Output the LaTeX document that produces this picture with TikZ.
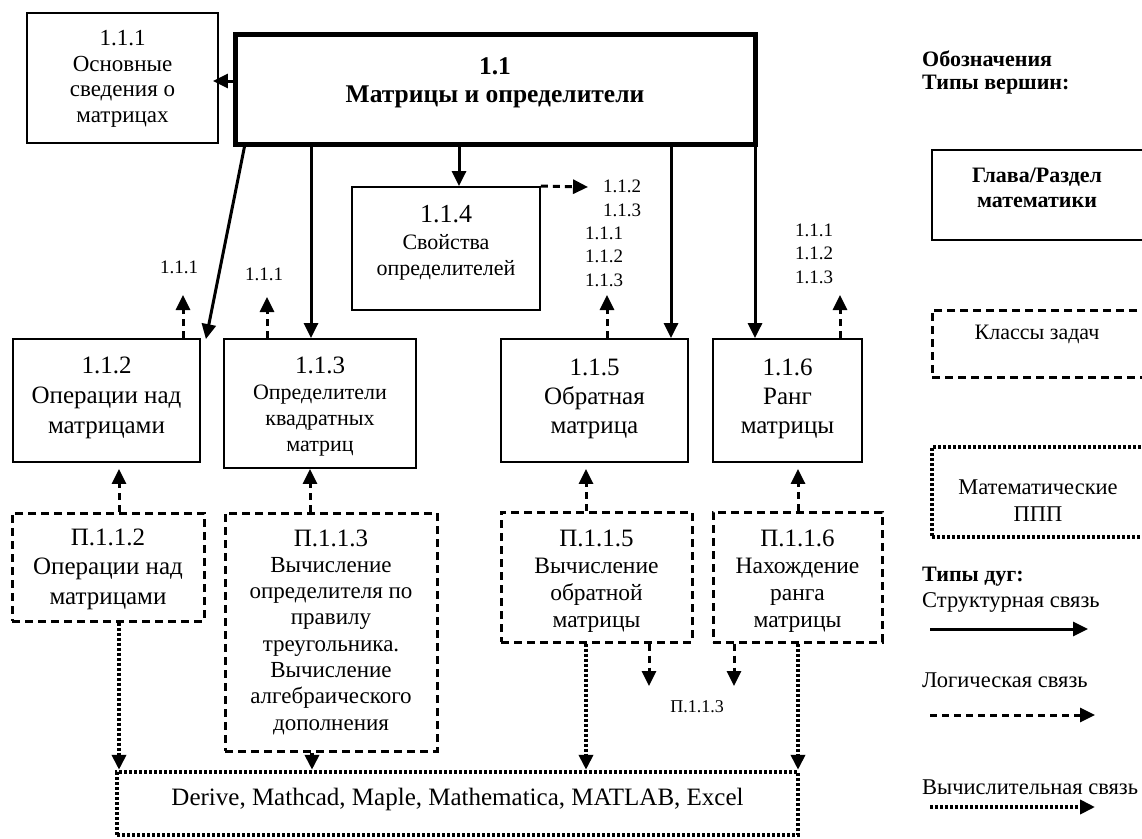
\documentclass[tikz,border=0pt]{standalone}
\usepackage{fontspec}
\setmainfont{Liberation Serif}
\usetikzlibrary{arrows.meta}
\newcommand{\myfs}[2]{\fontsize{#1}{#2}\selectfont}
\begin{document}
\begin{tikzpicture}[x=1pt,y=-1pt,
  box/.style={draw, line width=1.8pt, inner sep=0pt, align=center},
  mainbox/.style={draw, line width=5pt, inner sep=0pt, align=center},
  taskbox/.style={draw, line width=3pt, dash pattern=on 8pt off 5pt, inner sep=0pt, align=center},
  softbox/.style={draw, line width=4.5pt, dash pattern=on 3.3pt off 1.7pt, inner sep=0pt, align=center},
  txt/.style={inner sep=0pt, align=center},
  myhead/.style={-{Triangle[length=15pt,width=14pt]}},
  struct/.style={line width=3pt, myhead},
  logic/.style={line width=3pt, dash pattern=on 7pt off 5pt, myhead},
  calc/.style={line width=4.5pt, dash pattern=on 3.3pt off 1.7pt, myhead},
  lbl/.style={inner sep=0pt, align=center, font=\myfs{19}{23.5}},
]
\useasboundingbox (0,0) rectangle (1142,838);
\clip (0,0) rectangle (1142,838);

% ---- chapter boxes ----
\node[box, minimum width=191pt, minimum height=130pt] (a111) at (122.5,78) {};
\node[txt, font=\myfs{23}{25.7}] (a111t) at (122.5,79) {1.1.1\\Основные\\сведения о\\матрицах};
\node[mainbox, minimum width=520pt, minimum height=110pt] (m11) at (495,89) {};
\node[txt, font=\bfseries\myfs{25.5}{27.5}] (m11t) at (495,83) {1.1\\Матрицы и определители};
\node[box, minimum width=188pt, minimum height=123pt] (a114) at (446,248.5) {};
\node[txt, font=\myfs{22}{26.5}] (a114t) at (446,243) {{\myfs{26}{26.5}1.1.4}\\Свойства\\определителей};
\node[box, minimum width=187pt, minimum height=123pt] (a112) at (106.5,400.5) {};
\node[txt, font=\myfs{25}{30}] (a112t) at (106.5,398) {1.1.2\\Операции над\\матрицами};
\node[box, minimum width=192pt, minimum height=129pt] (a113) at (320,403.5) {};
\node[txt, font=\myfs{22}{26}] (a113t) at (320,406.5) {{\myfs{25}{26}1.1.3}\\Определители\\квадратных\\матриц};
\node[box, minimum width=187pt, minimum height=123pt] (a115) at (594.5,400.5) {};
\node[txt, font=\myfs{25}{29}] (a115t) at (594.5,398.5) {1.1.5\\Обратная\\матрица};
\node[box, minimum width=149pt, minimum height=123pt] (a116) at (787.5,400.5) {};
\node[txt, font=\myfs{25}{29}] (a116t) at (787.5,398.5) {1.1.6\\Ранг\\матрицы};

% ---- task boxes ----
\node[taskbox, minimum width=192pt, minimum height=108pt] (p112) at (108,567) {};
\node[txt, font=\myfs{25}{29.5}] (p112t) at (108,569) {П.1.1.2\\Операции над\\матрицами};
\node[taskbox, minimum width=212pt, minimum height=238pt] (p113) at (331,632) {};
\node[txt, font=\myfs{23}{26.3}] (p113t) at (331,632) {{\myfs{25}{26.3}П.1.1.3}\\Вычисление\\определителя по\\правилу\\треугольника.\\Вычисление\\алгебраического\\дополнения};
\node[taskbox, minimum width=191pt, minimum height=130pt] (p115) at (596.5,577) {};
\node[txt, font=\myfs{23.5}{27}] (p115t) at (596.5,581) {{\myfs{25}{27}П.1.1.5}\\Вычисление\\обратной\\матрицы};
\node[taskbox, minimum width=169pt, minimum height=130pt] (p116) at (797.5,577) {};
\node[txt, font=\myfs{23.5}{27}] (p116t) at (797.5,581) {{\myfs{25}{27}П.1.1.6}\\Нахождение\\ранга\\матрицы};

% ---- software box ----
\node[softbox, minimum width=681pt, minimum height=63pt] (ppp) at (457.5,803.5) {};
\node[txt, font=\myfs{25}{28}] (pppt) at (457.5,799) {Derive, Mathcad, Maple, Mathematica, MATLAB, Excel};

% ---- small labels ----
\node[lbl] (l1) at (179,267) {1.1.1};
\node[lbl] (l2) at (264,274) {1.1.1};
\node[lbl] (l3) at (622,198.5) {1.1.2\\1.1.3};
\node[lbl] (l4) at (604,256.5) {1.1.1\\1.1.2\\1.1.3};
\node[lbl] (l5) at (814,253.5) {1.1.1\\1.1.2\\1.1.3};
\node[lbl, font=\myfs{18}{22}] (l6) at (697,707) {П.1.1.3};

% ---- structural links ----
\draw[struct] (m11.west |- 0,81) -- ([xshift=-6pt]a111.east |- 0,81);
\draw[struct] ([xshift=12pt]m11.south west) -- ([xshift=5pt,yshift=-1pt]a112.north east);
\draw[struct] (m11.south -| 311,0) -- (a113.north -| 311,0);
\draw[struct] (m11.south -| 459,0) -- (a114.north -| 459,0);
\draw[struct] (m11.south -| 671,0) -- (a115.north -| 671,0);
\draw[struct] (m11.south -| 755,0) -- (a116.north -| 755,0);

% ---- logical links ----
\coordinate (e1) at (183,295);
\coordinate (e2) at (267,297);
\coordinate (e3) at (588,187);
\coordinate (e4) at (607,295);
\coordinate (e5) at (840,295);
\coordinate (e6) at (649,686);
\coordinate (e7) at (734,686);
\draw[logic] (a112.north -| e1) -- (e1);
\draw[logic] (a113.north -| e2) -- (e2);
\draw[logic] (a114.north east) -- (e3);
\draw[logic] (a115.north -| e4) -- (e4);
\draw[logic] (a116.north -| e5) -- (e5);
\draw[logic, shorten >=6pt] (p112.north -| 119,0) -- (a112.south -| 119,0);
\draw[logic] (p113.north -| 310,0) -- (a113.south -| 310,0);
\draw[logic, shorten >=6pt] (p115.north -| 586,0) -- (a115.south -| 586,0);
\draw[logic, shorten >=6pt] (p116.north -| 798,0) -- (a116.south -| 798,0);
\draw[logic] (p115.south -| e6) -- (e6);
\draw[logic] (p116.south -| e7) -- (e7);

% ---- computational links ----
\draw[calc] (p112.south -| 119,0) -- (ppp.north -| 119,0);
\draw[calc] (p113.south -| 312,0) -- (ppp.north -| 312,0);
\draw[calc] (p115.south -| 586,0) -- (ppp.north -| 586,0);
\draw[calc] (p116.south -| 798,0) -- (ppp.north -| 798,0);

% ---- legend ----
\node[anchor=west, inner sep=0pt, align=left, font=\bfseries\myfs{22}{23}] (leg) at (922,72) {Обозначения\\Типы вершин:};
\node[box, minimum width=212pt, minimum height=90pt] (lg1) at (1038,195) {};
\node[txt, font=\bfseries\myfs{22}{25}] (lg1t) at (1037,188) {Глава/Раздел\\математики};
\node[taskbox, minimum width=212pt, minimum height=67pt] (lg2) at (1038,343.5) {};
\node[txt, font=\myfs{22}{25}] (lg2t) at (1037,334) {Классы задач};
\node[softbox, minimum width=212pt, minimum height=90pt] (lg3) at (1038,492) {};
\node[txt, font=\myfs{22.5}{27}] (lg3t) at (1038,501) {Математические\\ППП};
\node[anchor=west, inner sep=0pt, font=\bfseries\myfs{22}{24}] (lt) at (922,577) {Типы дуг:};
\node[anchor=west, inner sep=0pt, font=\myfs{22.5}{24}] (ls) at (922,602) {Структурная связь};
\node[anchor=west, inner sep=0pt, font=\myfs{22.5}{24}] (ll) at (922,680) {Логическая связь};
\node[anchor=west, inner sep=0pt, font=\myfs{22.5}{24}] (lc) at (922,787) {Вычислительная связь};
\coordinate (s1) at (930,629); \coordinate (t1) at (1088,629);
\coordinate (s2) at (930,715); \coordinate (t2) at (1095,715);
\coordinate (s3) at (930,807); \coordinate (t3) at (1095,807);
\draw[struct] (s1) -- (t1);
\draw[logic] (s2) -- (t2);
\draw[calc] (s3) -- (t3);
\end{tikzpicture}
\end{document}
